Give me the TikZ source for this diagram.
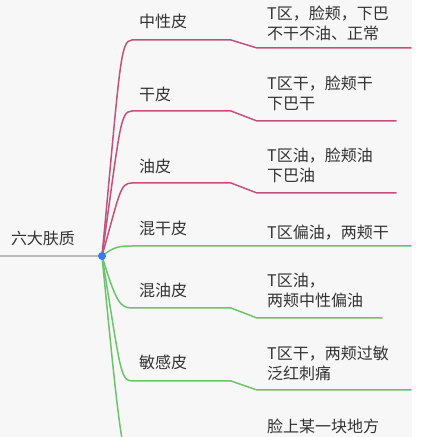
\documentclass[tikz,border=0pt]{standalone}
\usepackage{fontspec}
\setmainfont{Noto Sans CJK SC}
\usetikzlibrary{calc}

\definecolor{pinkline}{HTML}{C2527C}
\definecolor{greenline}{HTML}{6CC46C}
\definecolor{hubblue}{HTML}{3B7BE8}
\definecolor{rootgray}{HTML}{BDBDBD}
\definecolor{paper}{HTML}{F7F7F7}
\definecolor{inktext}{HTML}{333333}

\tikzset{
  oily/.style={draw=pinkline, line width=1.5pt, line cap=round},
  mixed/.style={draw=greenline, line width=1.5pt, line cap=round},
  skintype/.style={anchor=west, inner sep=0pt, text=inktext, font=\fontsize{16}{20}\selectfont},
  skinnote/.style={anchor=west, inner sep=0pt, text=inktext, align=left, font=\fontsize{16}{20}\selectfont},
}

\begin{document}
\begin{tikzpicture}[x=1pt, y=1pt]
		\useasboundingbox (0,0) rectangle (429,437);
		\fill[white] (0,0) rectangle (429,437);
		\fill[paper] (0,0) rectangle (412,437);
		\clip (0,0) rectangle (429,437);

		% centre and root
		\coordinate (hub) at (102,181);
		\coordinate (rootend) at (0,181);
		\node[skintype, anchor=center] (root) at (43,199) {六大肤质};
		\draw[rootgray, line width=1.5pt] (rootend) -- (hub);

		% branch points
		\coordinate (neutral) at (132,397);
		\coordinate (dry) at (132,326);
		\coordinate (oil) at (132,254);
		\coordinate (combdry) at (132,191);
		\coordinate (comboil) at (132,129);
		\coordinate (sensitive) at (132,56);
		\coordinate (spot) at (135,-30);

		% pink branches
		\draw[oily] (hub) .. controls +(18,190) and +(-12,0) .. (neutral) -- (231,397) -- (257,389) -- (411,389);
		\draw[oily] (hub) .. controls +(18,128) and +(-12,0) .. (dry) -- (231,326) -- (257,316) -- (396,316);
		\draw[oily] (hub) .. controls +(18,64) and +(-12,0) .. (oil) -- (231,254) -- (257,244) -- (396,244);

		% green branches
		\draw[mixed] (hub) .. controls +(12,9) and +(-14,0) .. (combdry) -- (411,191);
		\draw[mixed] (hub) .. controls +(14,-46) and +(-12,0) .. (comboil) -- (231,129) -- (257,119) -- (382,119);
		\draw[mixed] (hub) .. controls +(18,-110) and +(-12,0) .. (sensitive) -- (231,56) -- (257,47) -- (411,47);
		\draw[mixed] (hub) .. controls +(18,-185) and +(-12,0) .. (spot);

		\fill[hubblue] (hub) circle (4);

		% skin types
		\node[skintype] (t1) at (139,416) {中性皮};
		\node[skintype] (t2) at (139,343) {干皮};
		\node[skintype] (t3) at (139,271) {油皮};
		\node[skintype] (t4) at (139,209) {混干皮};
		\node[skintype] (t5) at (139,147) {混油皮};
		\node[skintype] (t6) at (139,75) {敏感皮};

		% notes
		\node[skinnote] (n1) at (267,413.5) {T区，脸颊，下巴\\不干不油、正常};
		\node[skinnote] (n2) at (267,344) {T区干，脸颊干\\下巴干};
		\node[skinnote] (n3) at (267,272) {T区油，脸颊油\\下巴油};
		\node[skinnote] (n4) at (267,204) {T区偏油，两颊干};
		\node[skinnote] (n5) at (267,146.5) {T区油，\\两颊中性偏油};
		\node[skinnote] (n6) at (267,74) {T区干，两颊过敏\\泛红刺痛};
		\node[skinnote] (n7) at (267,11) {脸上某一块地方};
	\end{tikzpicture}
\end{document}
